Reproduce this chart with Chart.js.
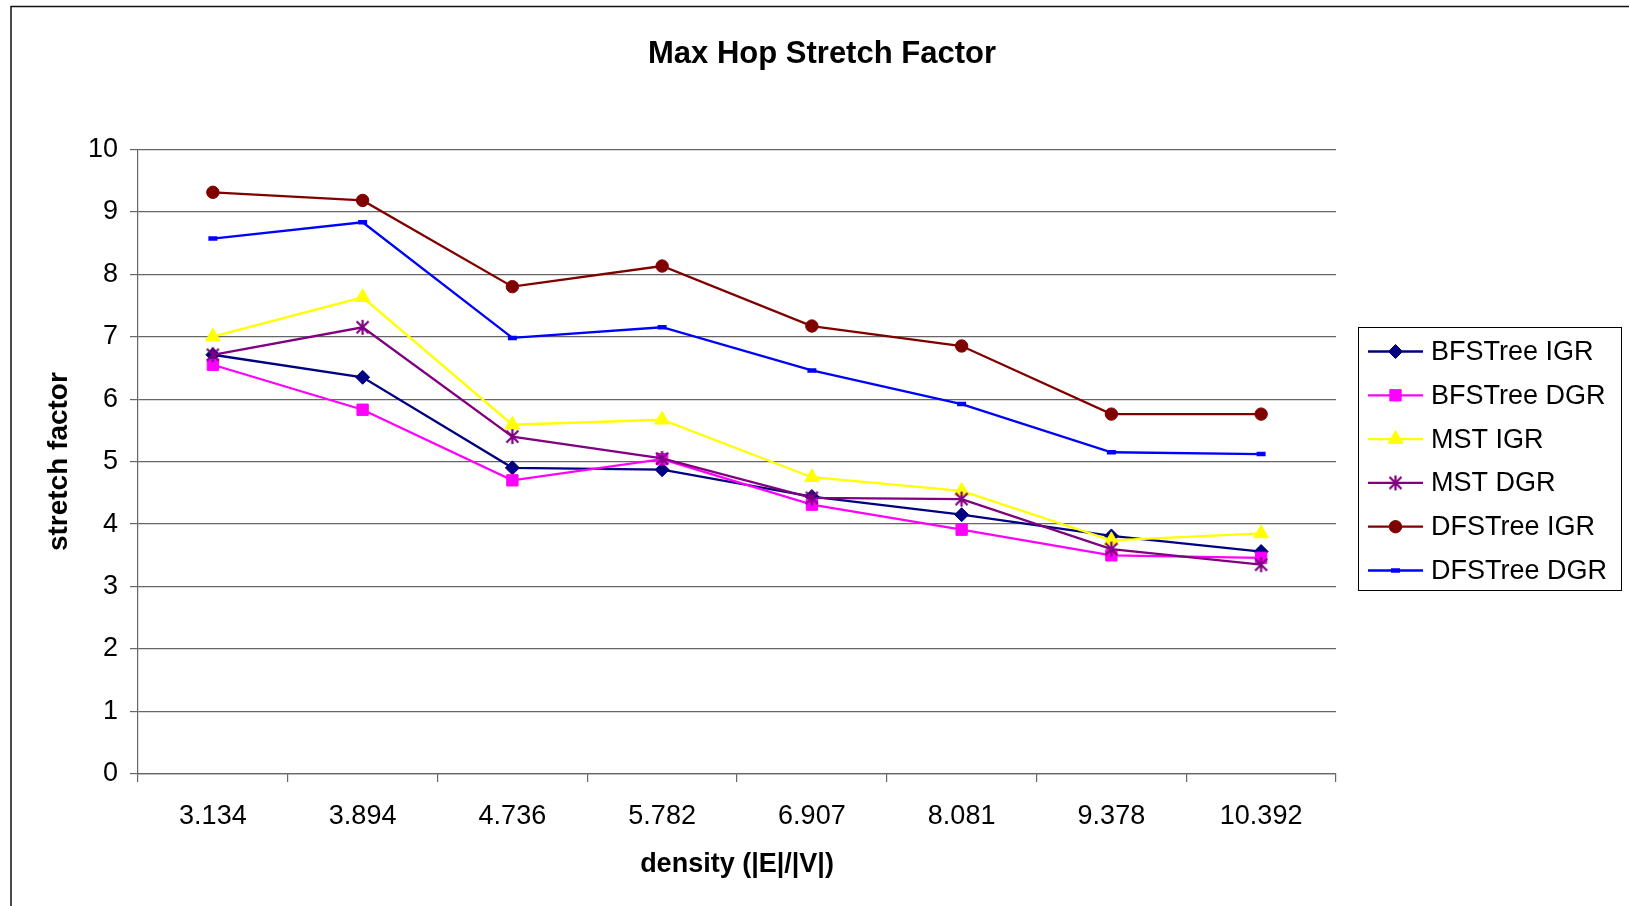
<!DOCTYPE html>
<html>
<head>
<meta charset="utf-8">
<title>Max Hop Stretch Factor</title>
<script src="https://cdn.jsdelivr.net/npm/chart.js@4/dist/chart.umd.min.js"></script>
<style>
  html, body { margin: 0; padding: 0; background: #fff; }
  canvas { display: block; }
</style>
</head>
<body>
<canvas id="chart" width="1629" height="906"></canvas>
<script>
// Densities (|E|/|V|) used as x categories
const densities = ['3.134', '3.894', '4.736', '5.782', '6.907', '8.081', '9.378', '10.392'];

// Max hop stretch factor per algorithm / graph representation
const bfsTreeIGR = [6.71, 6.35, 4.90, 4.87, 4.44, 4.15, 3.81, 3.56];
const bfsTreeDGR = [6.55, 5.83, 4.70, 5.04, 4.31, 3.91, 3.50, 3.46];
const mstIGR     = [7.00, 7.63, 5.59, 5.67, 4.75, 4.53, 3.74, 3.85];
const mstDGR     = [6.71, 7.15, 5.40, 5.05, 4.42, 4.40, 3.60, 3.35];
const dfsTreeIGR = [9.31, 9.18, 7.80, 8.13, 7.17, 6.85, 5.76, 5.76];
const dfsTreeDGR = [8.57, 8.83, 6.98, 7.15, 6.46, 5.92, 5.15, 5.12];

const yTicks = [0, 1, 2, 3, 4, 5, 6, 7, 8, 9, 10];

const FONT = '"Liberation Sans", Arial, Helvetica, sans-serif';
const GRID = '#666666';

// Asterisk marker: vertical bar plus an X
function asteriskMarker(color, size, lw) {
  const c = document.createElement('canvas');
  c.width = size; c.height = size;
  const g = c.getContext('2d');
  g.strokeStyle = color;
  g.lineWidth = lw;
  const m = size / 2, r = size / 2 - 1, d = r * 0.8;
  g.beginPath();
  g.moveTo(m, m - r); g.lineTo(m, m + r);
  g.moveTo(m - d, m - d); g.lineTo(m + d, m + d);
  g.moveTo(m + d, m - d); g.lineTo(m - d, m + d);
  g.stroke();
  return c;
}

function series(label, data, color, style, radius, pbw) {
  return {
    label, data,
    borderColor: color,
    backgroundColor: color,
    borderWidth: 2.3,
    tension: 0,
    pointStyle: style,
    pointRadius: radius,
    pointHoverRadius: radius,
    pointBackgroundColor: color,
    pointBorderColor: color,
    pointBorderWidth: pbw
  };
}

const datasets = [
  series('BFSTree IGR', bfsTreeIGR, '#000080', 'rectRot', 7, 1),
  series('BFSTree DGR', bfsTreeDGR, '#FF00FF', 'rect', 8, 1),
  series('MST IGR',     mstIGR,     '#FFFF00', 'triangle', 8.5, 1),
  series('MST DGR',     mstDGR,     '#800080', asteriskMarker('#800080', 17, 2.2), 8, 0),
  series('DFSTree IGR', dfsTreeIGR, '#800000', 'circle', 6.2, 1),
  series('DFSTree DGR', dfsTreeDGR, '#0000FF', 'line', 4.5, 4.5)
];
// later series are painted above earlier ones
datasets.forEach((d, i) => { d.order = datasets.length - i; });

// White page background and the outer frame
const frame = {
  id: 'frame',
  beforeDraw(chart) {
    const ctx = chart.ctx;
    ctx.save();
    ctx.fillStyle = '#fff';
    ctx.fillRect(0, 0, chart.width, chart.height);
    ctx.restore();
  },
  afterDraw(chart) {
    const ctx = chart.ctx;
    ctx.save();
    ctx.strokeStyle = '#111';
    ctx.lineWidth = 1.5;
    ctx.strokeRect(11, 6.5, chart.width + 20, chart.height + 20);
    ctx.restore();
  }
};

// Boxed legend: a line with the series marker, followed by its name
const boxLegend = {
  id: 'boxLegend',
  afterDraw(chart, args, o) {
    const ctx = chart.ctx;
    const h = Chart.helpers;
    ctx.save();
    ctx.strokeStyle = '#000';
    ctx.lineWidth = 1;
    ctx.strokeRect(o.left + 0.5, o.top + 0.5, o.width, o.height);
    ctx.font = o.fontSize + 'px ' + FONT;
    ctx.textBaseline = 'middle';
    ctx.textAlign = 'left';
    chart.data.datasets.forEach((ds, i) => {
      const y = o.firstY + i * o.step;
      ctx.strokeStyle = ds.borderColor;
      ctx.lineWidth = ds.borderWidth;
      ctx.beginPath();
      ctx.moveTo(o.lineX0, y);
      ctx.lineTo(o.lineX1, y);
      ctx.stroke();
      ctx.fillStyle = ds.pointBackgroundColor;
      ctx.strokeStyle = ds.pointBorderColor;
      ctx.lineWidth = ds.pointBorderWidth;
      h.drawPoint(ctx, {
        pointStyle: ds.pointStyle,
        radius: ds.pointRadius,
        rotation: 0,
        borderWidth: ds.pointBorderWidth
      }, (o.lineX0 + o.lineX1) / 2, y);
      ctx.fillStyle = '#000';
      ctx.fillText(ds.label, o.textX, y + 1);
    });
    ctx.restore();
  }
};

new Chart(document.getElementById('chart'), {
  type: 'line',
  data: { labels: densities, datasets },
  plugins: [frame, boxLegend],
  options: {
    responsive: false,
    animation: false,
    events: [],
    layout: { padding: { left: 15, right: 0, top: 10, bottom: 10 } },
    plugins: {
      legend: { display: false },
      tooltip: { enabled: false },
      title: {
        display: true,
        text: 'Max Hop Stretch Factor',
        color: '#000',
        font: { family: FONT, size: 31, weight: 'bold' },
        padding: { top: 26, bottom: 76 }
      },
      boxLegend: {
        left: 1358, top: 327, width: 263, height: 263,
        firstY: 351.5, step: 43.8,
        lineX0: 1368, lineX1: 1423, textX: 1431,
        fontSize: 27
      }
    },
    scales: {
      x: {
        type: 'category',
        offset: true,
        grid: {
          offset: true,
          drawOnChartArea: false,
          drawTicks: true,
          tickLength: 8,
          color: GRID,
          lineWidth: 1.2
        },
        border: { display: true, color: GRID, width: 1.2 },
        ticks: {
          color: '#000',
          padding: 18,
          maxRotation: 0,
          autoSkip: false,
          font: { family: FONT, size: 27 }
        },
        title: {
          display: true,
          text: 'density (|E|/|V|)',
          color: '#000',
          font: { family: FONT, size: 27, weight: 'bold' },
          padding: { top: 0, bottom: 15 }
        },
        afterFit(scale) { scale.height = 122; }
      },
      y: {
        type: 'linear',
        min: 0,
        max: 10,
        afterBuildTicks(scale) { scale.ticks = yTicks.map(v => ({ value: v })); },
        grid: {
          drawTicks: true,
          tickLength: 8,
          color: GRID,
          lineWidth: 1.2
        },
        border: { display: true, color: GRID, width: 1.2 },
        ticks: {
          color: '#000',
          padding: 12,
          font: { family: FONT, size: 27 }
        },
        title: {
          display: true,
          text: 'stretch factor',
          color: '#000',
          font: { family: FONT, size: 28, weight: 'bold' },
          padding: { top: 27, bottom: 0 }
        },
        afterFit(scale) { scale.width = 123; }
      },
      // keeps the column to the right of the plot free for the legend
      side: {
        type: 'linear',
        position: 'right',
        display: true,
        grid: { display: false, drawTicks: false },
        border: { display: false },
        ticks: { display: false },
        afterFit(scale) { scale.width = 293; }
      }
    }
  }
});
</script>
</body>
</html>
